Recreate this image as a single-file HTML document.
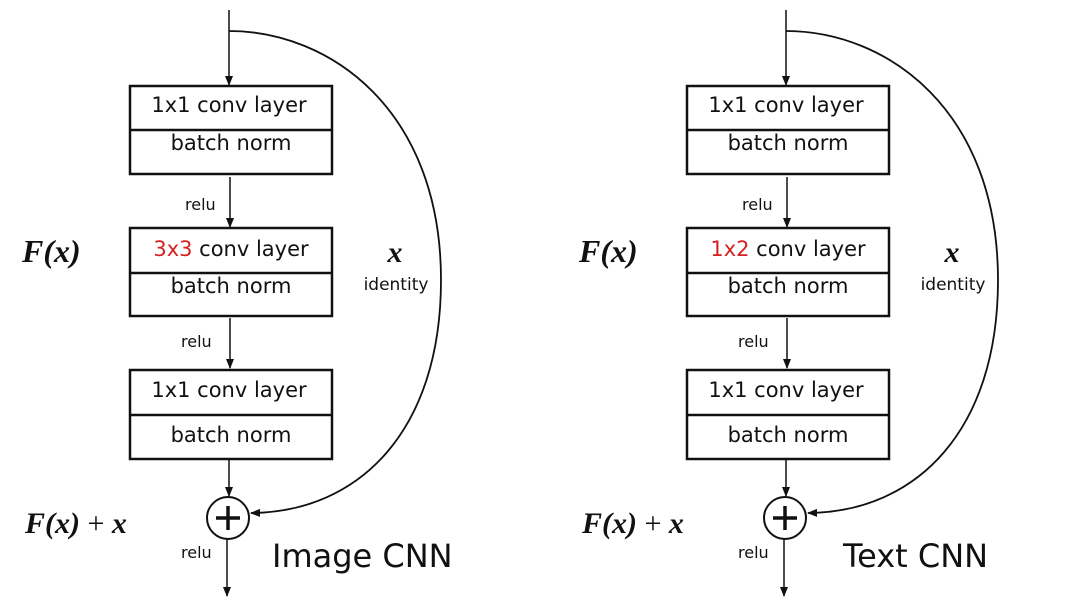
<!DOCTYPE html>
<html><head><meta charset="utf-8"><style>
html,body{margin:0;padding:0;background:#fff;}
svg{display:block;}
.t{font-family:"DejaVu Sans","Liberation Sans",sans-serif;fill:#111;}
.m{font-family:"Liberation Serif",serif;font-style:italic;font-weight:bold;fill:#111;}
</style></head><body>
<svg width="1080" height="607" viewBox="0 0 1080 607" xmlns="http://www.w3.org/2000/svg">
<defs>
<marker id="a" markerWidth="10" markerHeight="10" refX="9" refY="5" orient="auto" markerUnits="userSpaceOnUse">
<path d="M0,1 L10,5 L0,9 Z" fill="#111"/></marker>
<g id="blk">
<line x1="229" y1="10" x2="229" y2="85" stroke="#111" stroke-width="1.5" marker-end="url(#a)"/>
<rect x="130" y="86" width="202" height="88" fill="#fff" stroke="#111" stroke-width="2.5"/>
<line x1="130" y1="130" x2="332" y2="130" stroke="#111" stroke-width="2.5"/>
<text class="t" x="231" y="150" font-size="21" text-anchor="middle">batch norm</text>
<line x1="230" y1="177" x2="230" y2="227" stroke="#111" stroke-width="1.5" marker-end="url(#a)"/>
<text class="t" x="185" y="210" font-size="16">relu</text>
<rect x="130" y="228" width="202" height="88" fill="#fff" stroke="#111" stroke-width="2.5"/>
<line x1="130" y1="273" x2="332" y2="273" stroke="#111" stroke-width="2.5"/>
<text class="t" x="231" y="293" font-size="21" text-anchor="middle">batch norm</text>
<line x1="230" y1="318" x2="230" y2="368" stroke="#111" stroke-width="1.5" marker-end="url(#a)"/>
<text class="t" x="181" y="347" font-size="16">relu</text>
<rect x="130" y="370" width="202" height="89" fill="#fff" stroke="#111" stroke-width="2.5"/>
<line x1="130" y1="415" x2="332" y2="415" stroke="#111" stroke-width="2.5"/>
<text class="t" x="229" y="397" font-size="21" text-anchor="middle">1x1 conv layer</text>
<text class="t" x="231" y="442" font-size="21" text-anchor="middle">batch norm</text>
<text class="t" x="229" y="112" font-size="21" text-anchor="middle">1x1 conv layer</text>
<line x1="229" y1="460" x2="229" y2="496" stroke="#111" stroke-width="1.5" marker-end="url(#a)"/>
<circle cx="228" cy="518" r="21" fill="#fff" stroke="#111" stroke-width="2"/>
<line x1="216" y1="518" x2="240" y2="518" stroke="#111" stroke-width="3.5"/>
<line x1="228" y1="506" x2="228" y2="530" stroke="#111" stroke-width="3.5"/>
<line x1="227" y1="539" x2="227" y2="596" stroke="#111" stroke-width="1.5" marker-end="url(#a)"/>
<text class="t" x="181" y="558" font-size="16">relu</text>
<path d="M229,31 C330,31 441,110 441,280 C441,430 360,512 251,513" fill="none" stroke="#111" stroke-width="1.8" marker-end="url(#a)"/>
<text class="m" x="395" y="262" font-size="30" text-anchor="middle">x</text>
<text class="t" x="396" y="290" font-size="17" text-anchor="middle">identity</text>
<text class="m" x="22" y="262" font-size="32">F(x)</text>
<text class="m" x="25" y="533" font-size="30">F(x) <tspan font-style="normal" font-weight="normal">+</tspan> x</text>
</g>
</defs>
<use href="#blk"/>
<text class="t" x="231" y="256" font-size="21" text-anchor="middle"><tspan fill="#d42020">3x3</tspan> conv layer</text>
<text class="t" x="272" y="567" font-size="32">Image CNN</text>
<use href="#blk" transform="translate(557,0)"/>
<text class="t" x="788" y="256" font-size="21" text-anchor="middle"><tspan fill="#d42020">1x2</tspan> conv layer</text>
<text class="t" x="843" y="567" font-size="32">Text CNN</text>
</svg>
</body></html>
